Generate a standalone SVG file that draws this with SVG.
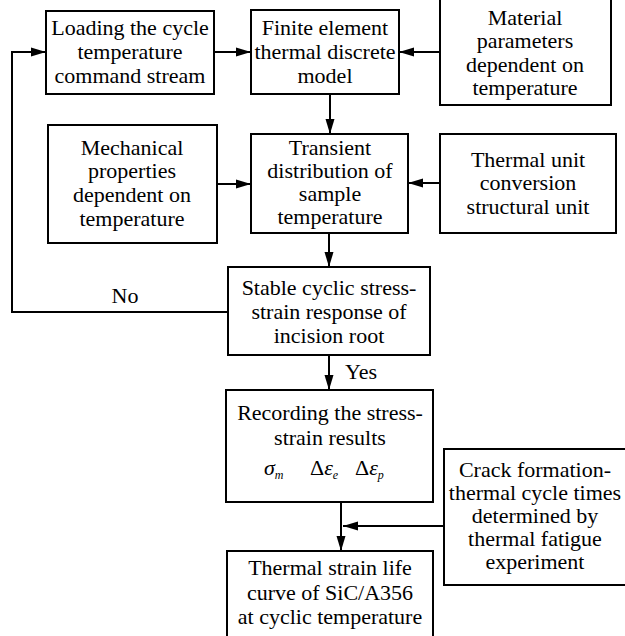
<svg xmlns="http://www.w3.org/2000/svg" width="625" height="636" viewBox="0 0 625 636">
<defs>
<marker id="ah" markerUnits="userSpaceOnUse" markerWidth="16" markerHeight="10" refX="15" refY="5" orient="auto">
<path d="M0,0.5 L15,5 L0,9.5 Z" fill="#000"/>
</marker>
<style>
rect{fill:#fff;stroke:#000;stroke-width:2}
text{font-family:'Liberation Serif','Times New Roman',serif;font-size:22px;fill:#000;text-anchor:middle}
.c line,.c polyline{stroke:#000;stroke-width:2;fill:none}
.m{text-anchor:start}
.i{font-style:italic}
.s{font-size:12px;font-style:italic}
</style>
</defs>
<rect x="0" y="0" width="625" height="636" style="fill:#fff;stroke:none"/>
<g id="n1"><rect x="46" y="11" width="168" height="83"/>
<text x="130" y="35">Loading the cycle</text><text x="130" y="59">temperature</text><text x="130" y="83">command stream</text></g>
<g id="n2"><rect x="251" y="10" width="148" height="84"/>
<text x="325" y="35">Finite element</text><text x="325" y="59">thermal discrete</text><text x="325" y="83">model</text></g>
<g id="n3"><rect x="440" y="-4" width="171" height="109"/>
<text x="525" y="25">Material</text><text x="525" y="48">parameters</text><text x="525" y="72">dependent on</text><text x="525" y="95">temperature</text></g>
<g id="n4"><rect x="48" y="125" width="169" height="118"/>
<text x="132" y="155">Mechanical</text><text x="132" y="178">properties</text><text x="132" y="202">dependent on</text><text x="132" y="226">temperature</text></g>
<g id="n5"><rect x="251" y="134" width="157" height="99"/>
<text x="330" y="155">Transient</text><text x="330" y="178">distribution of</text><text x="330" y="201">sample</text><text x="330" y="224">temperature</text></g>
<g id="n6"><rect x="440" y="134" width="176" height="99"/>
<text x="528" y="167">Thermal unit</text><text x="528" y="190">conversion</text><text x="528" y="214">structural unit</text></g>
<g id="n7"><rect x="228" y="267" width="202" height="88"/>
<text x="329" y="295">Stable cyclic stress-</text><text x="329" y="319">strain response of</text><text x="329" y="343">incision root</text></g>
<g id="n8"><rect x="226" y="390" width="207" height="112"/>
<text x="330" y="420">Recording the stress-</text><text x="330" y="445">strain results</text>
<text class="m" x="264" y="475"><tspan class="i">σ</tspan><tspan class="s" dy="4">m</tspan><tspan dy="-4" x="310">Δ</tspan><tspan class="i">ε</tspan><tspan class="s" dy="4">e</tspan><tspan dy="-4" x="355">Δ</tspan><tspan class="i">ε</tspan><tspan class="s" dy="4">p</tspan></text></g>
<g id="n9"><rect x="444" y="449" width="184" height="136"/>
<text x="535" y="477">Crack formation-</text><text x="535" y="500">thermal cycle times</text><text x="535" y="523">determined by</text><text x="535" y="546">thermal fatigue</text><text x="535" y="569">experiment</text></g>
<g id="n10"><rect x="227" y="551" width="206" height="90"/>
<text x="330" y="575">Thermal strain life</text><text x="330" y="600">curve of SiC/A356</text><text x="330" y="624">at cyclic temperature</text></g>
<g id="connectors" class="c">
<line x1="214" y1="52" x2="251" y2="52" marker-end="url(#ah)"/>
<line x1="440" y1="52" x2="399" y2="52" marker-end="url(#ah)"/>
<line x1="330" y1="94" x2="330" y2="134" marker-end="url(#ah)"/>
<line x1="217" y1="184" x2="251" y2="184" marker-end="url(#ah)"/>
<line x1="440" y1="183" x2="408" y2="183" marker-end="url(#ah)"/>
<line x1="329" y1="233" x2="329" y2="267" marker-end="url(#ah)"/>
<polyline points="228,312 12,312 12,52 46,52" marker-end="url(#ah)"/>
<line x1="329" y1="355" x2="329" y2="390" marker-end="url(#ah)"/>
<line x1="341" y1="502" x2="341" y2="551" marker-end="url(#ah)"/>
<line x1="444" y1="526" x2="343" y2="526" marker-end="url(#ah)"/>
<text x="125" y="303">No</text>
<text x="345" y="379" style="text-anchor:start">Yes</text>
</g>
</svg>
